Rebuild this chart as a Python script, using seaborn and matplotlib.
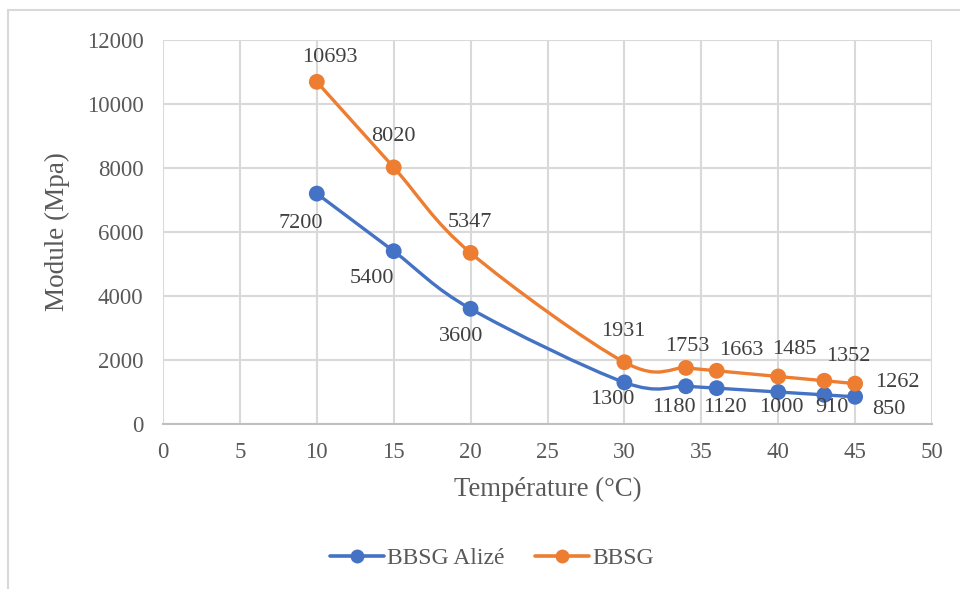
import numpy as np
import pandas as pd
import matplotlib
matplotlib.use("Agg")
import matplotlib.pyplot as plt
from matplotlib.path import Path
from matplotlib.patches import PathPatch
from matplotlib.lines import Line2D
import seaborn as sns

# Data
temperature = [10, 15, 20, 30, 34, 36, 40, 43, 45]
module_alize = [7200, 5400, 3600, 1300, 1180, 1120, 1000, 910, 850]
module_bbsg = [10693, 8020, 5347, 1931, 1753, 1663, 1485, 1352, 1262]
series_names = ["BBSG Alizé", "BBSG"]
x_ticks = [0, 5, 10, 15, 20, 25, 30, 35, 40, 45, 50]
y_ticks = [0, 2000, 4000, 6000, 8000, 10000, 12000]

# Label offsets (pixels, y up) for each point's value label
alize_label_offsets = [(-16, -30), (-22, -27), (-9, -28), (-12, -17), (-12, -21),
                       (8, -19), (3, -15), (8, -13), (34, -13)]
bbsg_label_offsets = [(13, 24), (0, 31), (-1, 30), (-1, 31), (1, 21),
                      (25, 20), (16, 27), (24, 24), (42, 1)]

colors = {"BBSG Alizé": "#4472C4", "BBSG": "#ED7D31"}
text_color = "#595959"
grid_color = "#D9D9D9"

df = pd.DataFrame({
    "Température": temperature * 2,
    "Module": module_alize + module_bbsg,
    "Série": [series_names[0]] * len(temperature) + [series_names[1]] * len(temperature),
})

sns.set_theme(style="white")
plt.rcParams["font.family"] = ["Liberation Serif", "DejaVu Serif"]

fig = plt.figure(figsize=(9.6, 5.89), dpi=100)
ax = fig.add_axes([163 / 960, 1 - 424 / 589, (932 - 163) / 960, (424 - 40) / 589])


def smooth_path(xs, ys):
    """Cubic Bezier path through the points (Catmull-Rom style smoothing)."""
    pts = np.column_stack([xs, ys]).astype(float)
    n = len(pts)
    verts = [pts[0]]
    codes = [Path.MOVETO]
    for i in range(n - 1):
        p_prev = pts[i - 1] if i > 0 else pts[i]
        p0 = pts[i]
        p1 = pts[i + 1]
        p_next = pts[i + 2] if i + 2 < n else pts[i + 1]
        c1 = p0 + (p1 - p_prev) / 6.0
        c2 = p1 - (p_next - p0) / 6.0
        verts += [c1, c2, p1]
        codes += [Path.CURVE4] * 3
    return Path(verts, codes)


for name in series_names:
    sub = df[df["Série"] == name]
    patch = PathPatch(smooth_path(sub["Température"], sub["Module"]),
                      facecolor="none", edgecolor=colors[name], lw=2.4,
                      capstyle="round", joinstyle="round", zorder=3)
    ax.add_patch(patch)

sns.scatterplot(data=df, x="Température", y="Module", hue="Série",
                palette=colors, s=130, edgecolor="none", legend=False,
                ax=ax, zorder=4)

# Value labels
for vals, offs in ((module_alize, alize_label_offsets), (module_bbsg, bbsg_label_offsets)):
    for x, v, (dx, dy) in zip(temperature, vals, offs):
        ax.annotate(f"{v}", (x, v), xytext=(dx * 0.72, dy * 0.72),
                    textcoords="offset points", ha="center", va="center",
                    fontsize=16, color="#404040", zorder=5)

ax.set_xlim(0, 50)
ax.set_ylim(0, 12000)
ax.set_xticks(x_ticks)
ax.set_yticks(y_ticks)
ax.set_xticklabels([str(t) for t in x_ticks])
ax.set_yticklabels([str(t) for t in y_ticks])
ax.tick_params(axis="both", length=0, labelsize=16.5, colors=text_color)
ax.tick_params(axis="x", pad=13)
ax.tick_params(axis="y", pad=14)

ax.grid(True, color=grid_color, lw=1.5)
ax.set_axisbelow(True)
for side in ["top", "right", "left"]:
    ax.spines[side].set_visible(False)
ax.spines["bottom"].set_color("#BFBFBF")
ax.spines["bottom"].set_linewidth(1.5)

ax.set_xlabel("Température (°C)", fontsize=19.3, color=text_color, labelpad=10)
ax.set_ylabel("Module (Mpa)", fontsize=19.5, color=text_color, labelpad=12)

handles = [Line2D([0], [0], color=colors[n], lw=2.6, marker="o", markersize=10,
                  markeredgewidth=0) for n in series_names]
fig.legend(handles, series_names, loc="center", bbox_to_anchor=(492 / 960, 1 - 558 / 589),
           ncol=2, frameon=False, fontsize=17, handlelength=2.3, handletextpad=0.12,
           columnspacing=1.28, labelcolor=text_color)

# Outer chart frame (top and left edges)
fig.add_artist(Line2D([8 / 960, 1.0], [1 - 10 / 589, 1 - 10 / 589], color="#D9D9D9", lw=1.5))
fig.add_artist(Line2D([8 / 960, 8 / 960], [0, 1 - 10 / 589], color="#D9D9D9", lw=1.5))

fig.savefig("out.png", dpi=100, facecolor="white")
